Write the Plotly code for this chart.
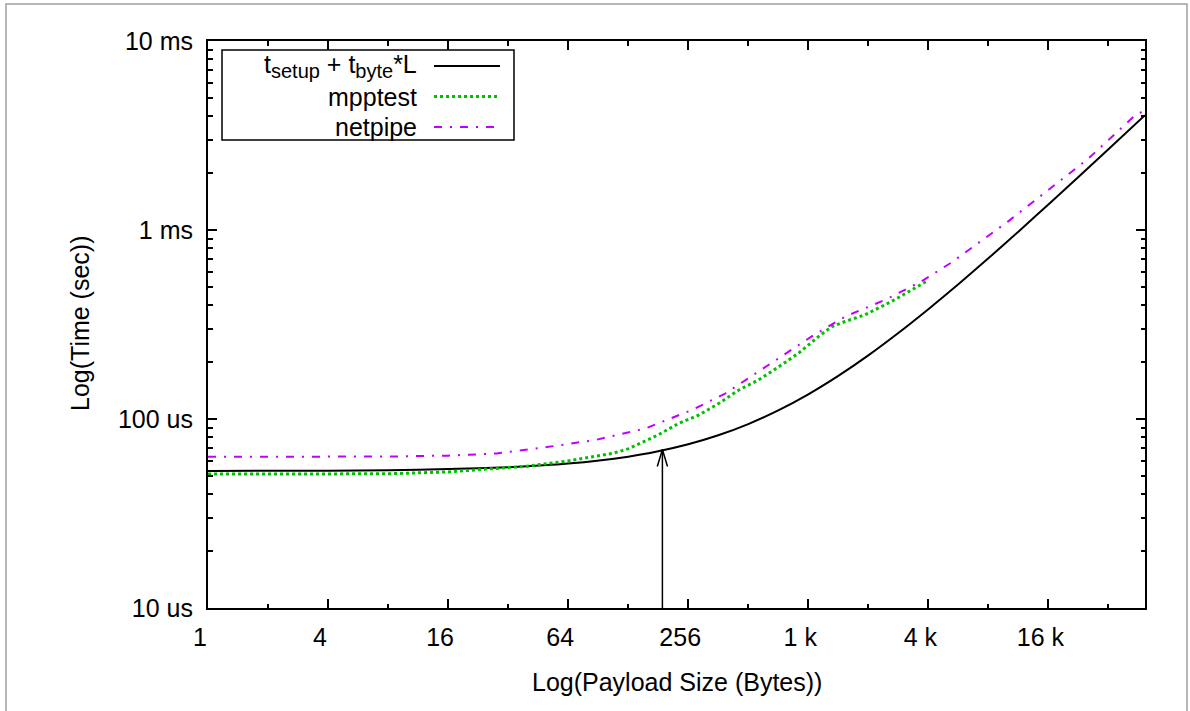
import math
import plotly.graph_objects as go

# ---- data -------------------------------------------------------------
# payload sizes in bytes, times in microseconds

# model curve: t_setup + t_byte * L
model_bytes = [1, 2, 4, 8, 16, 32, 64, 128, 181, 256, 362, 512, 724, 1024, 1448,
               2048, 2896, 4096, 5793, 8192, 11585, 16384, 23170, 32768, 50000]
model_us = [53.0, 53.2, 53.3, 53.6, 54.3, 55.6, 58.1, 63.2, 67.5, 73.5, 82.0, 94.0,
            111.0, 135.0, 169.0, 217.0, 285.0, 381.0, 516.0, 708.0, 980.0, 1364.0,
            1906.0, 2674.0, 4050.0]

# mpptest measurements
mpptest_bytes = [1, 2, 4, 8, 16, 24, 40, 64, 72, 90, 107, 128, 145, 169, 183, 230, 290,
                 365, 460, 577, 729, 916, 1152, 1343, 1566, 1974, 2670, 3520, 4000]
mpptest_us = [51.1, 51.1, 51.1, 51.3, 52.5, 54.0, 56.3, 60.0, 61.3, 63.4, 65.8, 69.5,
              73.5, 79.5, 83.0, 94.9, 105.0, 121.0, 142.5, 161.0, 189.0, 223.0, 273.0,
              308.0, 328.0, 356.0, 418.0, 493.0, 534.0]

# netpipe measurements
netpipe_bytes = [1, 4, 8, 16, 28, 50, 88, 157, 197, 268, 394, 648, 1062, 1566, 2486,
                 3770, 5330, 10300, 16270, 25900, 45600, 50000]
netpipe_us = [63.1, 63.2, 63.3, 64.0, 65.7, 71.0, 77.5, 89.3, 98.5, 111.8, 136.8, 193.0,
              273.0, 348.0, 427.0, 534.0, 671.0, 1111.0, 1622.0, 2378.0, 4133.0, 4240.0]

# arrow marking the knee of the model curve
arrow_bytes = 190
arrow_us = 69.0

# axes
x_tick_vals = [1, 4, 16, 64, 256, 1024, 4096, 16384]
x_tick_text = ["1", "4", "16", "64", "256", "1 k", "4 k", "16 k"]
x_minor_vals = [2, 8, 32, 128, 512, 2048, 8192, 32768]
x_max = 50000
y_tick_vals = [1e-5, 1e-4, 1e-3, 1e-2]
y_tick_text = ["10 us", "100 us", "1 ms", "10 ms"]

SUB = '<sub><span style="font-size:20px">{}</span></sub>'
legend_labels = ["t" + SUB.format("setup") + " + t" + SUB.format("byte") + "*L",
                 "mpptest", "netpipe"]

# ---- styling ----------------------------------------------------------
FONT = "Liberation Sans, Arial, Helvetica, sans-serif"
FS = 25
BLACK = "#000000"
GREEN = "#00c000"
PURPLE = "#c000ff"
PURPLE_DASH = "8px,8px,2px,8px"

W, H = 1190, 711
ML, MR, MT, MB = 208, 45, 41, 103
PW, PH = W - ML - MR, H - MT - MB


def px(xp):
    return (xp - ML) / PW


def py(yp):
    return (H - MB - yp) / PH


def us(vals):
    return [v * 1e-6 for v in vals]


fig = go.Figure()

fig.add_trace(go.Scatter(x=model_bytes, y=us(model_us), mode="lines",
                         line=dict(color=BLACK, width=2, shape="spline", smoothing=0.6),
                         hoverinfo="skip"))
fig.add_trace(go.Scatter(x=mpptest_bytes, y=us(mpptest_us), mode="lines",
                         line=dict(color=GREEN, width=3, dash="dot"), hoverinfo="skip"))
fig.add_trace(go.Scatter(x=netpipe_bytes, y=us(netpipe_us), mode="lines",
                         line=dict(color=PURPLE, width=2, dash=PURPLE_DASH),
                         hoverinfo="skip"))

# arrow: shaft from the bottom axis up to the curve, plus an open head
head_w = 2 ** 0.085
head_h = 10 ** 0.09
tip = arrow_us * 1e-6
fig.add_trace(go.Scatter(
    x=[arrow_bytes, arrow_bytes, None, arrow_bytes / head_w, arrow_bytes, arrow_bytes * head_w],
    y=[y_tick_vals[0], tip, None, tip / head_h, tip, tip / head_h],
    mode="lines", line=dict(color=BLACK, width=1.5), hoverinfo="skip"))

y_minor = [k * 10 ** e for e in range(-5, -2) for k in range(2, 10)]

fig.update_layout(
    width=W, height=H,
    margin=dict(l=ML, r=MR, t=MT, b=MB, pad=0),
    paper_bgcolor="white", plot_bgcolor="white",
    showlegend=False,
    font=dict(family=FONT, size=FS, color=BLACK),
    xaxis=dict(
        type="log", range=[0, math.log10(x_max)],
        tickmode="array", tickvals=x_tick_vals, ticktext=x_tick_text,
        ticks="inside", ticklen=9, tickwidth=1.5, tickcolor=BLACK,
        showline=True, linewidth=2, linecolor=BLACK, mirror="ticks",
        showgrid=False, zeroline=False,
        ticklabelshift=-8, ticklabelstandoff=6,
        minor=dict(tickmode="array", tickvals=x_minor_vals, ticks="inside",
                   ticklen=4.5, tickwidth=1.5, tickcolor=BLACK, showgrid=False),
    ),
    yaxis=dict(
        type="log", range=[-5, -2],
        tickmode="array", tickvals=y_tick_vals, ticktext=y_tick_text,
        ticks="inside", ticklen=9, tickwidth=1.5, tickcolor=BLACK,
        showline=True, linewidth=2, linecolor=BLACK, mirror="ticks",
        showgrid=False, zeroline=False,
        ticklabelstandoff=8,
        minor=dict(tickmode="array", tickvals=y_minor, ticks="inside",
                   ticklen=4.5, tickwidth=1.5, tickcolor=BLACK, showgrid=False),
    ),
)

shapes = [
    # thin frame around the whole figure
    dict(type="rect", xref="paper", yref="paper", x0=px(6), x1=px(1187), y0=py(720), y1=py(4),
         line=dict(color="#a0a0a0", width=1.5), layer="below"),
    # key box
    dict(type="rect", xref="paper", yref="paper", x0=px(222), x1=px(514), y0=py(140), y1=py(50),
         line=dict(color=BLACK, width=1.5), fillcolor="white"),
]
rows = [66, 96.5, 127]
samples = [dict(color=BLACK, width=2, dash="solid"),
           dict(color=GREEN, width=3, dash="dot"),
           dict(color=PURPLE, width=2, dash=PURPLE_DASH)]
annotations = []
for label, row, style in zip(legend_labels, rows, samples):
    shapes.append(dict(type="line", xref="paper", yref="paper",
                       x0=px(434), x1=px(500), y0=py(row), y1=py(row), line=style))
    annotations.append(dict(text=label, xref="paper", yref="paper", x=px(419), y=py(row),
                            xanchor="right", yanchor="middle", showarrow=False,
                            font=dict(family=FONT, size=FS, color=BLACK)))

# axis titles
annotations.append(dict(text="Log(Payload Size (Bytes))", xref="paper", yref="paper",
                        x=px(677), y=py(682), xanchor="center", yanchor="middle",
                        showarrow=False, font=dict(family=FONT, size=FS, color=BLACK)))
annotations.append(dict(text="Log(Time (sec))", xref="paper", yref="paper",
                        x=px(80), y=py(323), xanchor="center", yanchor="middle",
                        textangle=-90, showarrow=False,
                        font=dict(family=FONT, size=FS, color=BLACK)))

fig.update_layout(shapes=shapes, annotations=annotations)

fig.write_html("out.html")
